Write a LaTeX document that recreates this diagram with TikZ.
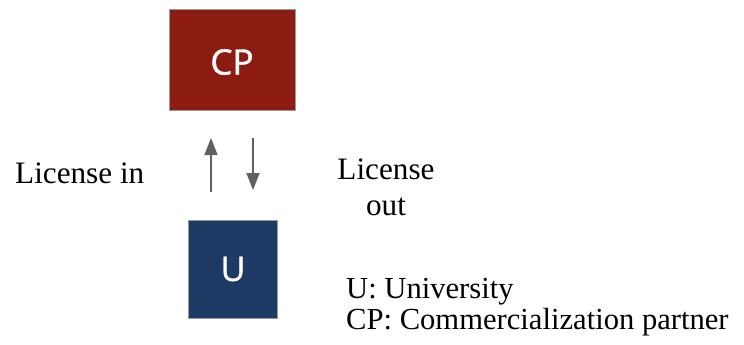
\documentclass[tikz,border=0pt]{standalone}
\usepackage{fontspec}
\setmainfont{Liberation Serif}
\newfontfamily\boxfont[FakeBold=1.2]{Open Sans}
\usetikzlibrary{arrows.meta}
\definecolor{cpred}{HTML}{8C1C12}
\definecolor{ublue}{HTML}{1C3A63}
\definecolor{arrgray}{HTML}{606060}
\begin{document}
\begin{tikzpicture}[x=1pt,y=-1pt,
  box/.style={draw=gray!80,line width=1pt,inner sep=0pt,anchor=north west},
  boxtext/.style={text=white,font=\boxfont\fontsize{35}{38}\selectfont},
  lbl/.style={font=\fontsize{31.2}{35}\selectfont,inner sep=0pt},
  arr/.style={draw=arrgray,line width=1.6pt,-{Triangle[length=17pt,width=13pt]}}]
\useasboundingbox (0,0) rectangle (744,345);
\fill[white] (0,0) rectangle (744,345);
\node[box,fill=cpred,minimum width=126pt,minimum height=101pt] (cp) at (169,9) {};
\node[boxtext] (cpt) at (232,62) {CP};
\node[box,fill=ublue,minimum width=89pt,minimum height=98pt] (u) at (188,220) {};
\node[boxtext,font=\boxfont\fontsize{34}{37}\selectfont] (ut) at (233,269) {U};
\coordinate (a1s) at (211,192);
\coordinate (a1e) at (211,138);
\coordinate (a2s) at (253,138);
\coordinate (a2e) at (253,190);
\draw[arr] (a1s) -- (a1e);
\draw[arr] (a2s) -- (a2e);
\node[lbl,anchor=base west] (lin) at (15,183) {License in};
\node[lbl,align=center,anchor=base] (lout) at (386,215) {License\\[1pt]out};
\node[lbl,font=\fontsize{30.6}{35}\selectfont,anchor=base west,align=left] (leg) at (346,329) {U: University\\[-4pt]CP: Commercialization partner};
\end{tikzpicture}
\end{document}
